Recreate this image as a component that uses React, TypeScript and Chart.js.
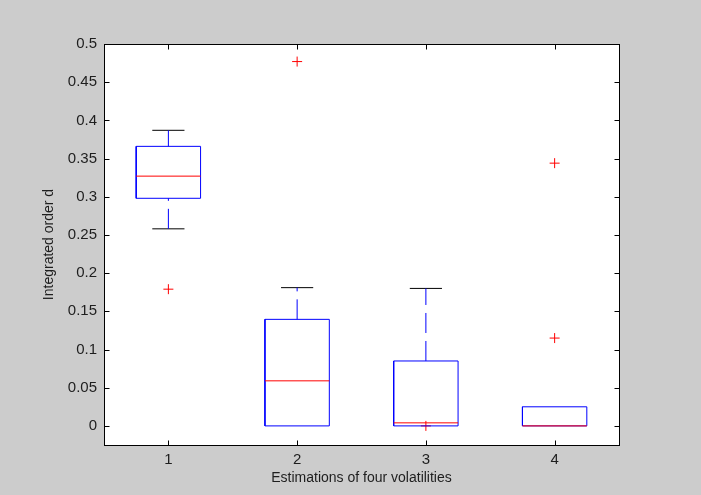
import React, { useEffect, useRef } from "react";
import { Chart, registerables } from "chart.js";

Chart.register(...registerables);

// Groups on the x axis
const categories = ["1", "2", "3", "4"];

// Five-number summaries per group
const lowerWhisker = [0.258, 0, 0, 0];
const q1 = [0.298, 0, 0, 0];
const median = [0.327, 0.059, 0.004, 0];
const q3 = [0.366, 0.1395, 0.085, 0.025];
const upperWhisker = [0.387, 0.181, 0.18, 0.025];

// Points beyond the whiskers, per group
const outliers = [[0.179], [0.477], [0], [0.344, 0.115]];

// Axis ticks
const yTickValues = [0, 0.05, 0.1, 0.15, 0.2, 0.25, 0.3, 0.35, 0.4, 0.45, 0.5];
const yTickLabels = ["0", "0.05", "0.1", "0.15", "0.2", "0.25", "0.3", "0.35", "0.4", "0.45", "0.5"];
const xTickValues = [1, 2, 3, 4];

const Y_MIN = -0.025;
const Y_MAX = 0.5;
const BOX_HALF = 0.25;
const CAP_HALF = 0.125;

const BLUE = "#0000ff";
const RED = "#ff0000";
const BLACK = "#000000";
const TEXT = "#1e1e1e";

function segment(x0: number, y0: number, x1: number, y1: number) {
  return [
    { x: x0, y: y0 },
    { x: x1, y: y1 },
  ];
}

function buildDatasets() {
  const sets: any[] = [];
  const lineBase = {
    type: "scatter",
    showLine: true,
    pointRadius: 0,
    pointHoverRadius: 0,
    borderWidth: 1,
    tension: 0,
    fill: false,
  };

  categories.forEach((_, i) => {
    const x = i + 1;
    // lower whisker and its cap
    if (q1[i] > lowerWhisker[i]) {
      sets.push({
        ...lineBase,
        data: segment(x, lowerWhisker[i], x, q1[i]),
        borderColor: BLUE,
        borderDash: [20, 8],
        order: 4,
      });
      sets.push({
        ...lineBase,
        data: segment(x - CAP_HALF, lowerWhisker[i], x + CAP_HALF, lowerWhisker[i]),
        borderColor: BLACK,
        order: 5,
      });
    }
    // upper whisker and its cap
    if (upperWhisker[i] > q3[i]) {
      sets.push({
        ...lineBase,
        data: segment(x, q3[i], x, upperWhisker[i]),
        borderColor: BLUE,
        borderDash: [20, 8],
        order: 4,
      });
      sets.push({
        ...lineBase,
        data: segment(x - CAP_HALF, upperWhisker[i], x + CAP_HALF, upperWhisker[i]),
        borderColor: BLACK,
        order: 5,
      });
    }
    // box
    sets.push({
      ...lineBase,
      data: [
        { x: x - BOX_HALF, y: q1[i] },
        { x: x + BOX_HALF, y: q1[i] },
        { x: x + BOX_HALF, y: q3[i] },
        { x: x - BOX_HALF, y: q3[i] },
        { x: x - BOX_HALF, y: q1[i] },
      ],
      borderColor: BLUE,
      order: 2,
    });
    // median
    sets.push({
      ...lineBase,
      data: segment(x - BOX_HALF, median[i], x + BOX_HALF, median[i]),
      borderColor: RED,
      order: 1,
    });
  });

  // outliers as red plus signs
  sets.push({
    type: "scatter",
    showLine: false,
    data: outliers.flatMap((vals, i) => vals.map((v) => ({ x: i + 1, y: v }))),
    pointStyle: "cross",
    pointRadius: 5,
    pointHoverRadius: 5,
    borderColor: RED,
    backgroundColor: RED,
    borderWidth: 1,
    order: 3,
  });

  return sets;
}

// White plot area, black frame and inward tick marks
const framePlugin = {
  id: "matlabFrame",
  beforeDraw(chart: any) {
    const { ctx, chartArea } = chart;
    ctx.save();
    ctx.fillStyle = "#cccccc";
    ctx.fillRect(0, 0, chart.width, chart.height);
    ctx.fillStyle = "#ffffff";
    ctx.fillRect(chartArea.left, chartArea.top, chartArea.right - chartArea.left, chartArea.bottom - chartArea.top);
    ctx.restore();
  },
  afterDraw(chart: any) {
    const { ctx, chartArea, scales } = chart;
    const L = Math.round(chartArea.left) + 0.5;
    const R = Math.round(chartArea.right) + 0.5;
    const T = Math.round(chartArea.top) + 0.5;
    const B = Math.round(chartArea.bottom) + 0.5;
    const tick = 5;
    ctx.save();
    ctx.strokeStyle = BLACK;
    ctx.lineWidth = 1;
    ctx.beginPath();
    yTickValues.forEach((v) => {
      const y = Math.round(scales.y.getPixelForValue(v)) + 0.5;
      ctx.moveTo(L, y);
      ctx.lineTo(L + tick, y);
      ctx.moveTo(R, y);
      ctx.lineTo(R - tick, y);
    });
    xTickValues.forEach((v) => {
      const x = Math.round(scales.x.getPixelForValue(v)) + 0.5;
      ctx.moveTo(x, B);
      ctx.lineTo(x, B - tick);
      ctx.moveTo(x, T);
      ctx.lineTo(x, T + tick);
    });
    ctx.stroke();
    ctx.strokeRect(L, T, R - L, B - T);
    ctx.restore();
  },
};

export default function App() {
  const canvasRef = useRef<HTMLCanvasElement | null>(null);

  useEffect(() => {
    const canvas = canvasRef.current;
    if (!canvas) return;
    const family = "'Liberation Sans', Arial, Helvetica, sans-serif";
    const tickFont = { family, size: 15 };
    const titleFont = { family, size: 14 };

    const chart = new Chart(canvas, {
      type: "scatter",
      data: { datasets: buildDatasets() },
      options: {
        animation: false,
        responsive: false,
        devicePixelRatio: 1,
        events: [],
        layout: { padding: { top: 44, right: 82, left: 0, bottom: 0 } },
        plugins: {
          legend: { display: false },
          tooltip: { enabled: false },
          title: { display: false },
        },
        scales: {
          x: {
            type: "linear",
            min: 0.5,
            max: 4.5,
            grid: { display: false, drawTicks: false },
            border: { display: false },
            afterBuildTicks: (scale: any) => {
              scale.ticks = xTickValues.map((v) => ({ value: v }));
            },
            afterFit: (scale: any) => {
              scale.height = 50;
            },
            ticks: {
              color: TEXT,
              font: tickFont,
              padding: 6,
              maxRotation: 0,
              callback: (_v: any, idx: number) => categories[idx],
            },
            title: {
              display: true,
              text: "Estimations of four volatilities",
              color: TEXT,
              font: titleFont,
              padding: { top: 0, bottom: 8.6 },
            },
          },
          y: {
            type: "linear",
            min: Y_MIN,
            max: Y_MAX,
            grid: { display: false, drawTicks: false },
            border: { display: false },
            afterBuildTicks: (scale: any) => {
              scale.ticks = yTickValues.map((v) => ({ value: v }));
            },
            afterFit: (scale: any) => {
              scale.width = 104;
            },
            ticks: {
              color: TEXT,
              font: tickFont,
              padding: 7,
              callback: (_v: any, idx: number) => yTickLabels[idx],
            },
            title: {
              display: true,
              text: "Integrated order d",
              color: TEXT,
              font: titleFont,
              padding: { top: 40.6, bottom: 0 },
            },
          },
        },
      } as any,
      plugins: [framePlugin],
    });

    return () => chart.destroy();
  }, []);

  return (
    <div
      style={{
        position: "fixed",
        left: 0,
        top: 0,
        width: 701,
        height: 495,
        background: "#cccccc",
      }}
    >
      <canvas ref={canvasRef} width={701} height={495} style={{ display: "block" }} />
    </div>
  );
}
